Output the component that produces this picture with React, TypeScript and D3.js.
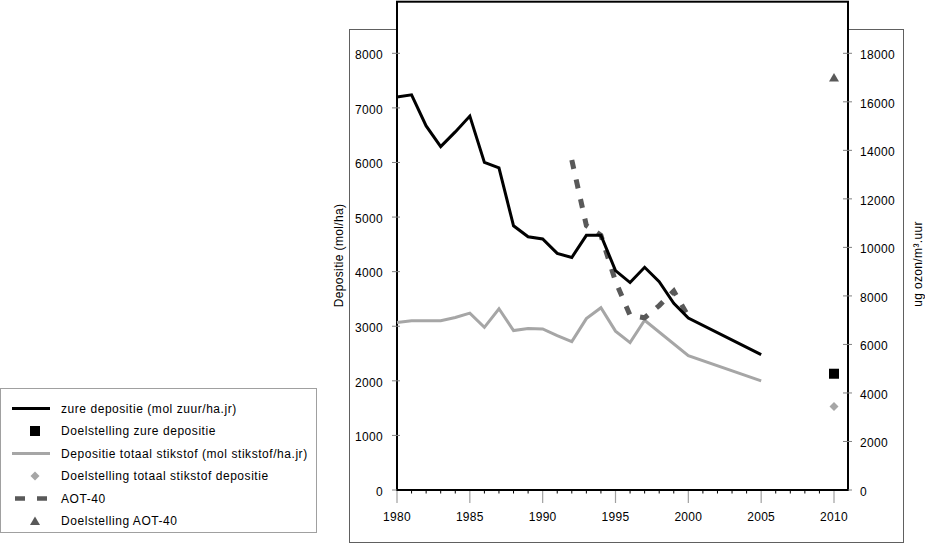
import React from "react";
import * as d3 from "d3";

const zureYears = [1980, 1981, 1982, 1983, 1984, 1985, 1986, 1987, 1988, 1989, 1990, 1991, 1992, 1993, 1994, 1995, 1996, 1997, 1998, 1999, 2000, 2005];
const zureValues = [7200, 7240, 6670, 6290, 6560, 6850, 6000, 5900, 4840, 4640, 4600, 4335, 4260, 4665, 4665, 4020, 3800, 4080, 3815, 3420, 3150, 2480];

const stikstofYears = [1980, 1981, 1982, 1983, 1984, 1985, 1986, 1987, 1988, 1989, 1990, 1991, 1992, 1993, 1994, 1995, 1996, 1997, 2000, 2005];
const stikstofValues = [3070, 3100, 3100, 3100, 3160, 3240, 2980, 3320, 2920, 2960, 2950, 2830, 2720, 3140, 3340, 2910, 2700, 3110, 2460, 2000];

const aotYears = [1992, 1993, 1994, 1995, 1996, 1997, 1998, 1999, 2000];
const aotValues = [13600, 10900, 10500, 8600, 7200, 7100, 7600, 8200, 7150];

const targetYear = 2010;
const zureTarget = 2130;
const stikstofTarget = 1530;
const aotTarget = 17000;

const leftTicks = [0, 1000, 2000, 3000, 4000, 5000, 6000, 7000, 8000];
const rightTicks = [0, 2000, 4000, 6000, 8000, 10000, 12000, 14000, 16000, 18000];
const xMajorTicks = [1980, 1985, 1990, 1995, 2000, 2005, 2010];

const legendLabels = [
  "zure depositie (mol zuur/ha.jr)",
  "Doelstelling zure depositie",
  "Depositie totaal stikstof (mol stikstof/ha.jr)",
  "Doelstelling totaal stikstof depositie",
  "AOT-40",
  "Doelstelling AOT-40",
];

const FONT = "'Liberation Sans', Arial, sans-serif";
const BLACK = "#000";
const LIGHT = "#a6a6a6";
const DARK = "#595959";

export default function App() {
  const plotL = 397, plotR = 848, plotT = 1.7, plotB = 490;
  const x = d3.scaleLinear().domain([1980, 2010]).range([plotL, 834]);
  const yL = d3.scaleLinear().domain([0, 8000]).range([plotB, 53.3]);
  const yR = d3.scaleLinear().domain([0, 18000]).range([plotB, 53.3]);

  const zure = zureYears.map((yr, i) => [yr, zureValues[i]] as [number, number]);
  const stik = stikstofYears.map((yr, i) => [yr, stikstofValues[i]] as [number, number]);
  const aot = aotYears.map((yr, i) => [yr, aotValues[i]] as [number, number]);

  const lineL = d3.line<[number, number]>().x(d => x(d[0])).y(d => yL(d[1]));
  const lineR = d3.line<[number, number]>().x(d => x(d[0])).y(d => yR(d[1]));

  const minorYears = d3.range(1981, 2010).filter(v => v % 5 !== 0);

  const tri = "M0,-4.5L5,4L-5,4Z";
  const dia = "M0,-4.5L4.5,0L0,4.5L-4.5,0Z";

  const legendY = d3.scalePoint<number>().domain(d3.range(6)).range([408.5, 521]);

  const legendSymbol = (i: number, cy: number) => {
    switch (i) {
      case 0:
        return <line x1={12} x2={50} y1={cy} y2={cy} stroke={BLACK} strokeWidth={3} />;
      case 1:
        return <rect x={30} y={cy - 5} width={10} height={10} fill={BLACK} />;
      case 2:
        return <line x1={12} x2={50} y1={cy} y2={cy} stroke={LIGHT} strokeWidth={3} />;
      case 3:
        return <path d={dia} transform={`translate(35,${cy})`} fill={LIGHT} />;
      case 4:
        return <line x1={15} x2={47} y1={cy} y2={cy} stroke={DARK} strokeWidth={4.5} strokeDasharray="10,12" />;
      default:
        return <path d={tri} transform={`translate(35,${cy})`} fill={DARK} />;
    }
  };

  return (
    <svg width={925} height={544} style={{ position: "absolute", left: 0, top: 0 }} fontFamily={FONT}>
      <rect x={0} y={0} width={925} height={544} fill="#fff" />
      {/* outer chart box */}
      <rect x={349.5} y={29.5} width={554} height={513} fill="#fff" stroke="#606060" strokeWidth={1} />
      {/* plot area */}
      <rect x={plotL} y={plotT} width={plotR - plotL} height={plotB - plotT} fill="#fff" stroke={BLACK} strokeWidth={2} />

      {/* left ticks */}
      {leftTicks.map(t => (
        <g key={"l" + t}>
          <line x1={plotL - 5} x2={plotL + 3} y1={yL(t)} y2={yL(t)} stroke="#808080" strokeWidth={1} />
          <text x={383} y={yL(t)} dy="0.48em" textAnchor="end" fontSize={12} letterSpacing={0.3} fill="#000">{t}</text>
        </g>
      ))}
      {/* right ticks */}
      {rightTicks.map(t => (
        <g key={"r" + t}>
          <line x1={plotR - 5} x2={plotR + 4} y1={yR(t)} y2={yR(t)} stroke="#808080" strokeWidth={1} />
          <text x={860} y={yR(t)} dy="0.5em" textAnchor="start" fontSize={12} letterSpacing={0.3} fill="#000">{t}</text>
        </g>
      ))}
      {/* x ticks */}
      {minorYears.map(yr => (
        <line key={"m" + yr} x1={x(yr)} x2={x(yr)} y1={plotB} y2={plotB + 3.5} stroke={BLACK} strokeWidth={1} />
      ))}
      {xMajorTicks.map(yr => (
        <g key={"x" + yr}>
          <line x1={x(yr)} x2={x(yr)} y1={plotB + 1} y2={plotB + 13} stroke="#a0a0a0" strokeWidth={1.2} />
          <text x={x(yr)} y={521} textAnchor="middle" fontSize={12} letterSpacing={0.3} fill="#000">{yr}</text>
        </g>
      ))}
      <line x1={plotL} x2={plotR} y1={plotB} y2={plotB} stroke={BLACK} strokeWidth={2} />

      {/* axis titles */}
      <text transform={`translate(343,255.5) rotate(-90)`} textAnchor="middle" fontSize={12} letterSpacing={0.35} fill="#000">Depositie (mol/ha)</text>
      <text transform={`translate(922,264) rotate(-90)`} textAnchor="middle" fontSize={12} letterSpacing={0.35} fill="#000">ug ozon/m³.uur</text>

      {/* series */}
      <path d={lineL(stik)!} fill="none" stroke={LIGHT} strokeWidth={3} strokeLinejoin="miter" />
      <path d={lineR(aot)!} fill="none" stroke={DARK} strokeWidth={5} strokeDasharray="9,11" />
      <path d={lineL(zure)!} fill="none" stroke={BLACK} strokeWidth={3} strokeLinejoin="miter" />

      {/* targets */}
      <rect x={x(targetYear) - 5} y={yL(zureTarget) - 5} width={10} height={10} fill={BLACK} />
      <path d={dia} transform={`translate(${x(targetYear)},${yL(stikstofTarget)})`} fill={LIGHT} />
      <path d={tri} transform={`translate(${x(targetYear)},${yR(aotTarget)})`} fill={DARK} />

      {/* legend */}
      <rect x={0.5} y={388.5} width={316} height={144} fill="#fff" stroke="#a0a0a0" strokeWidth={1} />
      {legendLabels.map((lab, i) => {
        const cy = legendY(i)!;
        return (
          <g key={lab}>
            {legendSymbol(i, cy)}
            <text x={61} y={cy} dy="0.36em" fontSize={12} letterSpacing={0.55} fill="#000">{lab}</text>
          </g>
        );
      })}
    </svg>
  );
}
